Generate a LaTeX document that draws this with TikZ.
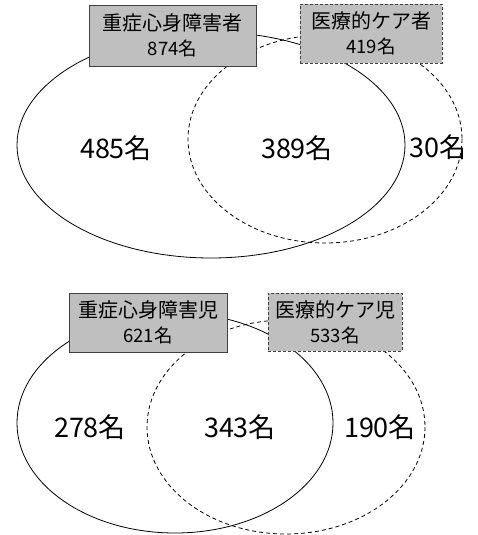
\documentclass[tikz,border=0pt]{standalone}
\usepackage{fontspec}
\setmainfont{Noto Sans CJK JP}
\definecolor{boxfill}{RGB}{191,191,191}
\definecolor{boxline}{RGB}{64,64,64}
\begin{document}
\begin{tikzpicture}[x=1pt,y=-1pt,
  ring/.style={draw=black,line width=0.8pt},
  dashring/.style={ring,dash pattern=on 4pt off 3pt},
  tag/.style={draw=boxline,fill=boxfill,line width=0.9pt,inner sep=0pt,align=center,
    font=\fontsize{18.5}{25}\selectfont},
  dashtag/.style={tag,dash pattern=on 3pt off 2pt},
  count/.style={font=\fontsize{27}{30}\selectfont}]
\useasboundingbox (0,0) rectangle (477,535);
\draw[ring] (211,145) ellipse (194 and 113);
\draw[dashring] (325,139) ellipse (137 and 104);
\node[tag,minimum width=167,minimum height=61] (juA) at (172.5,35.5) {{\fontsize{20}{25}\selectfont 重症心身障害者}\\874名};
\node[dashtag,minimum width=142,minimum height=59] (iryoA) at (371,33.5) {{\fontsize{20}{25}\selectfont 医療的ケア者}\\419名};
\node[count] (onlyA) at (116,148) {485名};
\node[count] (bothA) at (297,148) {389名};
\node[count] (restA) at (438,147) {30名};
\draw[ring] (175,423) ellipse (158 and 110);
\draw[dashring] (286,427) ellipse (139 and 107);
\node[tag,minimum width=158,minimum height=59] (juB) at (148,322.5) {{\fontsize{20}{25}\selectfont 重症心身障害児}\\621名};
\node[dashtag,minimum width=134,minimum height=58] (iryoB) at (335,322) {{\fontsize{20}{25}\selectfont 医療的ケア児}\\533名};
\node[count] (onlyB) at (90,427) {278名};
\node[count] (bothB) at (240,427) {343名};
\node[count] (restB) at (380,427) {190名};
\end{tikzpicture}
\end{document}
